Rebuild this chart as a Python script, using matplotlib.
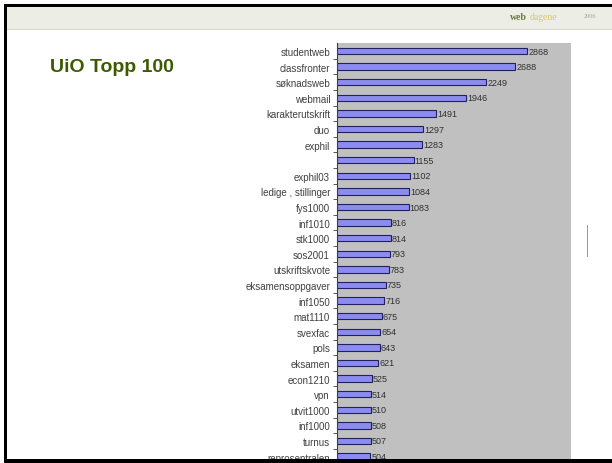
import matplotlib.pyplot as plt
from matplotlib.patches import Rectangle

# data
pages = ['studentweb', 'classfronter', 'søknadsweb', 'webmail', 'karakterutskrift',
         'duo', 'exphil', '', 'exphil03', 'ledige , stillinger', 'fys1000', 'inf1010',
         'stk1000', 'sos2001', 'utskriftskvote', 'eksamensoppgaver', 'inf1050',
         'mat1110', 'svexfac', 'pols', 'eksamen', 'econ1210', 'vpn', 'utvit1000',
         'inf1000', 'turnus', 'reprosentralen']
hits = [2868, 2688, 2249, 1946, 1491, 1297, 1283, 1155, 1102, 1084, 1083, 816,
        814, 793, 783, 735, 716, 675, 654, 643, 621, 525, 514, 510, 508, 507, 504]

W, H = 612, 464
fig = plt.figure(figsize=(W / 100, H / 100), dpi=100)
fig.patch.set_facecolor('white')

def px(x0, y0, x1, y1):
    # pixel box (top-left origin) -> figure fraction rect
    return [x0 / W, 1 - y1 / H, (x1 - x0) / W, (y1 - y0) / H]

# header strip
fig.patches.append(Rectangle((7 / W, 1 - 30 / H), 1, 22 / H, transform=fig.transFigure,
                             facecolor='#eceee6', edgecolor='none', zorder=0))
fig.patches.append(Rectangle((7 / W, 1 - 31 / H), 1, 1 / H, transform=fig.transFigure,
                             facecolor='#d8dacf', edgecolor='none', zorder=0))
fig.text(510 / W, 1 - 17 / H, 'web', color='#6b7a3a', fontsize=7,
         family='Liberation Serif', fontweight='bold', va='center')
fig.text(530 / W, 1 - 17 / H, 'dagene', color='#d8c860', fontsize=7,
         family='Liberation Serif', va='center')
fig.text(584 / W, 1 - 17 / H, '2006', color='#a0a0a0', fontsize=4.5,
         family='Liberation Serif', va='center')

# black slide border
for x0, y0, x1, y1 in [(4, 5, 612, 8), (4, 5, 7, 464), (4, 460, 612, 464)]:
    fig.patches.append(Rectangle((x0 / W, 1 - y1 / H), (x1 - x0) / W, (y1 - y0) / H,
                                 transform=fig.transFigure, facecolor='black',
                                 edgecolor='none', zorder=10))

fig.text(50 / W, 1 - 68 / H, 'UiO Topp 100', color='#3d5a00', fontsize=14,
         fontweight='bold', family='Liberation Sans', va='center')

# small mark on the right
fig.patches.append(Rectangle((587 / W, 1 - 258 / H), 1.2 / W, 32 / H, transform=fig.transFigure,
                             facecolor='#9098b8', edgecolor='none'))

# chart
row0, step = 52, 15.6
top_px, bot_px = 44, 475
ax = fig.add_axes(px(337, top_px, 571, bot_px))
ax.set_facecolor('#c0c0c0')
pos = list(range(len(pages)))
ax.barh(pos, hits, height=0.42, color='#8c8cf0', edgecolor='#202060', linewidth=0.8)
for y, v in zip(pos, hits):
    ax.text(v + 15, y, str(v), va='center', ha='left', fontsize=6.5,
            color='#303030', family='Liberation Sans')

ax.set_xlim(0, 3530)
ax.set_ylim((bot_px - row0) / step, (top_px - row0) / step)
ax.set_yticks(pos)
ax.set_yticklabels(pages, fontsize=7, color='#404040', family='Liberation Sans')
ax.set_yticks([p + 0.5 for p in pos], minor=True)
ax.tick_params(axis='y', which='major', length=0, pad=5)
ax.tick_params(axis='y', which='minor', length=3, width=0.6, color='#404040')
ax.set_xticks([])
for side in ['top', 'right', 'bottom']:
    ax.spines[side].set_visible(False)
ax.spines['left'].set_color('#404040')
ax.spines['left'].set_linewidth(0.8)

fig.savefig('out.png', dpi=100)
